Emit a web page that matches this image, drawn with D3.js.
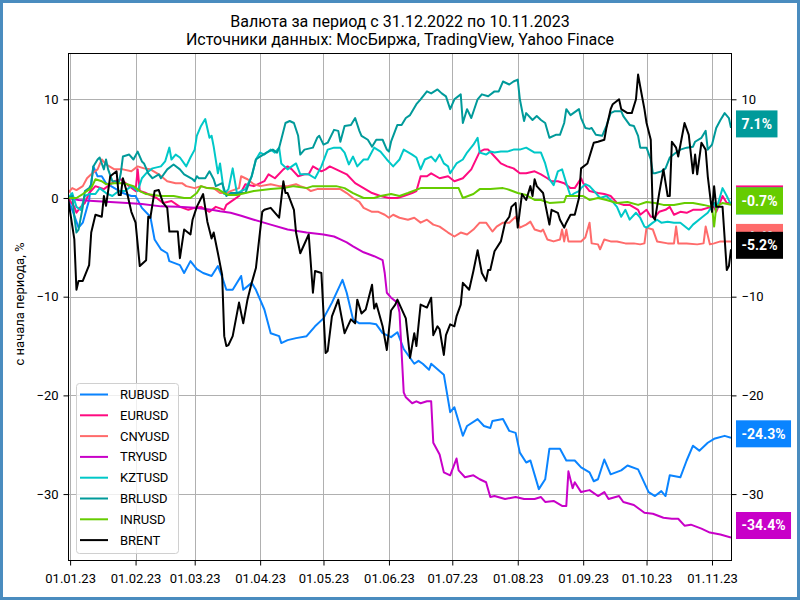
<!DOCTYPE html>
<html>
<head>
<meta charset="utf-8">
<script src="https://cdn.jsdelivr.net/npm/d3@7"></script>
<style>
  body { margin: 0; background: #fff; }
  text { font-family: Roboto, "DejaVu Sans", sans-serif; }
</style>
</head>
<body>
<script>
// day offsets from 31.12.2022, values in % from period start
var RUBUSD = [[0,0],[5,-3.0],[7,-2.5],[10,-0.2],[12,3.2],[14,2.2],[16,2.2],[18,1.5],[22,1.0],[26,0.5],[30,0.2],[32,0.2],[35,-1.0],[39,-1.9],[41,-4.2],[44,-5.2],[47,-5.6],[48,-6.4],[53,-6.8],[55,-7.6],[58,-6.4],[61,-7.2],[64,-7.6],[68,-7.9],[71,-6.9],[73,-8.0],[75,-9.3],[78,-9.3],[82,-7.9],[83,-9.3],[87,-8.6],[89,-9.3],[93,-11.3],[96,-13.7],[100,-14.0],[101,-14.7],[104,-14.4],[108,-14.2],[113,-14.0],[117,-13.0],[121,-12.2],[125,-10.6],[130,-8.3],[132,-9.6],[135,-12.3],[138,-12.7],[143,-12.7],[146,-12.8],[149,-13.7],[153,-14.1],[156,-13.6],[159,-15.3],[164,-16.8],[166,-16.5],[168,-16.8],[171,-17.4],[172,-16.8],[178,-17.9],[181,-21.7],[183,-21.2],[187,-24.1],[189,-23.1],[194,-22.4],[197,-23.1],[200,-23.3],[201,-22.6],[206,-22.4],[209,-23.6],[212,-23.8],[214,-25.8],[217,-26.8],[219,-26.6],[223,-29.5],[226,-28.5],[228,-25.4],[233,-25.4],[236,-26.6],[240,-26.6],[243,-27.3],[247,-27.8],[249,-28.7],[251,-28.5],[254,-26.5],[257,-28.0],[262,-27.6],[265,-27.1],[270,-27.5],[275,-29.8],[278,-30.2],[281,-29.7],[283,-30.2],[285,-28.1],[290,-28.3],[293,-26.6],[296,-25.1],[299,-25.6],[303,-24.8],[306,-24.4],[311,-24.1],[314,-24.3]];

var EURUSD = [[0,0],[3,-0.9],[4,-1.5],[6,-0.9],[8,-0.5],[10,0.5],[13,1.2],[17,0.9],[22,1.7],[25,1.9],[29,1.2],[32,0.7],[33,2.9],[34,0.7],[37,0.5],[42,0],[45,-0.5],[49,-0.3],[53,-0.9],[57,-1.2],[60,-1.0],[63,-0.9],[67,-1.4],[70,-0.9],[74,-1.2],[75,-0.7],[77,-0.4],[81,0.2],[84,1.4],[88,1.2],[93,1.7],[95,2.4],[98,2.0],[102,2.9],[104,3.2],[106,2.9],[109,2.2],[112,2.4],[114,2.4],[116,3.2],[120,2.7],[122,2.9],[124,3.2],[127,2.9],[132,2.4],[136,1.5],[140,1.0],[144,0.5],[148,0.2],[152,0],[156,0],[159,0.2],[163,0.5],[165,0.7],[167,2.2],[170,2.2],[172,2.5],[176,2.0],[180,2.2],[183,1.7],[187,2.0],[191,2.9],[195,4.7],[197,4.9],[199,4.9],[202,4.2],[205,3.5],[208,3.2],[211,3.0],[214,2.5],[217,2.5],[221,2.7],[224,2.4],[227,2.0],[229,1.7],[232,1.7],[235,1.5],[238,1.0],[240,1.0],[243,2.0],[244,1.5],[247,0.7],[251,0.5],[254,0.4],[257,0.2],[260,-0.5],[263,-0.7],[266,-0.7],[270,-1.2],[271,-1.7],[274,-1.2],[276,-1.9],[278,-1.9],[280,-1.4],[283,-1.2],[285,-0.9],[287,-1.7],[290,-1.4],[293,-1.5],[296,-1.2],[300,-1.2],[303,-1.0],[306,-0.9],[307,-1.4],[310,0.2],[312,-0.5],[314,-0.5]];

var CNYUSD = [[0,0.5],[2,1.0],[4,0.8],[7,1.2],[9,2.0],[11,2.4],[14,2.9],[16,3.9],[18,3.4],[22,2.9],[26,2.9],[30,2.7],[33,3.2],[36,3.0],[39,2.9],[43,2.4],[47,1.7],[51,1.5],[54,1.5],[56,1.2],[60,1.0],[63,1.2],[66,1.0],[69,1.0],[72,0.5],[75,0.5],[77,0.7],[81,1.0],[82,2.2],[85,1.9],[88,1.4],[91,1.2],[96,1.4],[100,1.2],[104,1.2],[108,1.4],[110,1.2],[113,1.0],[115,0.7],[118,0.9],[121,0.9],[125,0.9],[129,0.9],[132,0.5],[135,0],[138,-0.4],[140,-1.0],[144,-1.4],[147,-1.4],[150,-1.7],[152,-2.0],[154,-1.7],[157,-2.0],[161,-2.2],[164,-2.0],[167,-2.5],[170,-2.2],[173,-2.7],[176,-2.9],[180,-3.5],[183,-3.9],[186,-3.5],[189,-3.7],[192,-3.2],[195,-2.5],[198,-2.5],[201,-3.4],[203,-2.9],[206,-2.5],[209,-2.5],[212,-1.9],[214,-3.0],[215,-2.9],[217,-2.7],[219,-2.4],[221,-3.2],[224,-3.4],[225,-3.2],[227,-4.2],[230,-4.4],[233,-4.2],[234,-3.2],[235,-4.4],[236,-3.2],[237,-4.4],[240,-4.4],[243,-4.4],[245,-4.0],[247,-2.5],[248,-4.6],[251,-4.7],[252,-5.2],[254,-4.2],[257,-4.4],[260,-4.4],[264,-4.6],[268,-4.6],[271,-4.7],[273,-4.6],[274,-3.0],[277,-3.2],[279,-4.4],[284,-4.6],[287,-4.6],[288,-2.9],[289,-4.6],[293,-4.6],[298,-4.7],[301,-4.6],[302,-2.9],[304,-4.7],[306,-4.6],[309,-4.4],[314,-4.4]];

var TRYUSD = [[0,0],[5,-0.2],[12,-0.3],[20,-0.4],[28,-0.5],[35,-0.6],[44,-0.85],[52,-0.9],[60,-1.0],[68,-1.2],[72,-1.35],[77,-1.5],[82,-1.8],[88,-2.2],[96,-2.7],[104,-3.2],[113,-3.5],[121,-3.7],[126,-3.9],[129,-4.2],[132,-4.5],[135,-4.9],[140,-5.5],[145,-5.9],[149,-6.3],[150,-7.6],[151,-9.6],[153,-10.1],[156,-10.6],[157,-11.6],[159,-19.7],[160,-20.2],[163,-20.8],[165,-20.6],[167,-20.8],[170,-20.6],[172,-20.6],[173,-24.8],[176,-26.0],[178,-27.8],[181,-28.1],[184,-26.4],[185,-27.6],[188,-28.3],[192,-28.1],[195,-28.5],[198,-28.8],[200,-30.3],[202,-30.2],[207,-30.5],[212,-30.3],[216,-30.5],[221,-30.5],[224,-30.3],[226,-30.8],[230,-30.7],[234,-31.2],[236,-31.2],[237,-27.7],[239,-29.4],[240,-28.8],[243,-29.8],[247,-29.6],[251,-30.2],[254,-29.8],[256,-30.5],[261,-30.2],[263,-30.8],[268,-31.1],[273,-31.9],[277,-32.0],[282,-32.4],[286,-32.5],[289,-32.5],[292,-33.2],[295,-33.1],[300,-33.5],[304,-33.9],[309,-34.1],[314,-34.4]];

var KZTUSD = [[0,0],[2,0.5],[4,-0.9],[6,-1.2],[8,0.2],[10,0.4],[13,0.4],[15,1.0],[18,0.5],[21,0.2],[24,0.7],[27,0.7],[30,1.2],[33,0.7],[35,2.0],[37,2.5],[40,3.0],[44,3.2],[46,3.7],[48,5.1],[49,3.9],[51,4.4],[53,4.1],[56,3.2],[58,4.1],[60,4.9],[61,6.3],[63,7.3],[65,8.0],[67,6.1],[68,6.3],[69,5.2],[71,2.5],[72,3.5],[74,0.4],[76,0.9],[78,3.0],[80,0.5],[82,0.7],[84,0.9],[87,2.2],[89,3.9],[91,4.6],[93,4.4],[96,4.9],[98,4.6],[100,5.1],[101,3.5],[104,2.9],[106,3.2],[108,3.5],[110,2.4],[114,2.4],[117,2.0],[120,3.2],[123,4.9],[126,5.1],[129,5.1],[131,4.6],[133,3.4],[135,4.2],[137,3.2],[140,3.9],[142,3.9],[145,5.1],[148,4.7],[151,3.9],[154,3.2],[157,3.9],[159,4.9],[163,4.4],[165,4.1],[167,2.9],[169,3.9],[172,4.2],[174,3.7],[176,4.4],[178,3.5],[180,3.2],[181,2.5],[184,3.5],[187,3.9],[189,4.6],[192,5.4],[194,6.1],[195,4.6],[198,4.4],[200,4.7],[202,4.6],[205,4.7],[208,4.7],[211,4.9],[214,4.9],[217,5.1],[221,4.6],[224,4.6],[226,3.5],[228,1.9],[230,1.3],[232,2.7],[234,2.9],[236,1.5],[238,0.2],[240,0.5],[242,0.7],[243,1.0],[245,1.4],[247,1.2],[250,0.5],[252,0],[255,0.2],[258,-0.4],[260,-0.9],[262,-1.9],[264,-1.2],[266,-2.2],[269,-1.5],[271,-2.0],[273,-2.9],[274,-3.0],[277,-2.5],[279,-2.2],[281,-2.5],[284,-2.4],[287,-2.5],[290,-2.5],[294,-3.2],[296,-2.7],[300,-2.0],[303,-1.5],[306,-0.5],[307,-1.2],[310,1.0],[312,0.2],[314,-0.7]];

var BRLUSD = [[0,0],[2,0.2],[3,-1.9],[4,-3.5],[5,-3.2],[7,-0.9],[8,0.7],[10,1.0],[11,1.4],[12,3.2],[14,3.9],[15,4.1],[17,2.9],[18,3.9],[19,2.9],[21,1.7],[22,1.7],[24,1.5],[25,2.5],[26,4.2],[29,4.4],[31,3.9],[33,4.7],[35,3.7],[36,3.5],[38,2.5],[40,2.0],[43,2.4],[44,2.0],[47,2.9],[50,3.4],[53,2.9],[55,2.4],[59,1.9],[60,1.7],[61,2.2],[62,2.0],[65,2.0],[67,2.7],[69,1.9],[70,1.2],[73,1.5],[75,0.2],[77,0.5],[81,0.5],[84,0.5],[87,2.2],[89,3.9],[91,4.2],[94,4.6],[97,4.9],[99,4.6],[100,5.1],[103,7.6],[105,7.8],[107,7.6],[109,6.3],[110,4.4],[112,4.9],[116,5.1],[118,6.1],[119,6.3],[121,5.4],[123,5.6],[126,6.9],[128,6.8],[129,5.7],[131,7.3],[134,7.4],[136,8.1],[138,6.8],[139,6.3],[142,5.9],[144,5.2],[146,5.9],[149,5.9],[151,4.9],[152,4.7],[153,5.7],[156,7.4],[158,7.4],[160,8.1],[162,8.4],[165,9.5],[167,10.0],[170,10.8],[172,10.6],[175,11.0],[177,10.6],[179,10.3],[181,9.0],[183,10.0],[186,10.5],[187,7.6],[189,9.0],[191,8.1],[194,10.0],[196,10.5],[199,10.3],[202,10.8],[204,10.8],[206,11.8],[209,11.5],[211,11.8],[213,12.0],[214,10.0],[216,7.8],[217,8.6],[220,7.9],[222,8.3],[224,7.9],[226,7.6],[228,6.1],[231,6.4],[233,6.4],[235,7.6],[236,9.0],[238,8.4],[242,9.0],[243,8.1],[245,7.1],[247,7.0],[248,7.1],[250,6.4],[253,6.3],[255,7.3],[257,8.6],[259,8.8],[262,8.8],[263,8.3],[266,7.4],[268,7.3],[270,6.3],[271,5.1],[274,5.1],[276,3.9],[277,2.5],[278,2.5],[281,2.7],[283,3.0],[285,4.1],[288,4.6],[290,4.9],[293,5.1],[296,5.2],[297,5.7],[300,6.1],[302,6.8],[303,4.9],[305,5.4],[307,7.1],[309,7.9],[311,8.6],[313,8.1],[314,7.1]];

var INRUSD = [[0,0],[4,0],[7,0.4],[11,1.0],[13,1.9],[16,1.7],[18,1.4],[22,1.5],[26,1.5],[28,1.4],[31,1.2],[34,0.7],[37,0.4],[44,0.2],[50,0.2],[55,0],[58,0],[61,0.5],[63,1.2],[66,1.0],[71,0.9],[74,0.5],[76,0.3],[80,0.3],[88,0.7],[96,0.9],[102,1.0],[107,1.2],[113,1.0],[116,1.2],[121,1.2],[127,1.2],[131,1.0],[135,0.5],[140,0],[145,0],[148,0.2],[153,0.4],[157,0.2],[161,0.5],[167,1.0],[173,1.0],[179,1.0],[185,1.0],[187,0],[192,0.4],[195,0.9],[200,0.9],[206,1.0],[208,0.9],[213,0.5],[217,0.3],[221,-0.2],[224,-0.2],[228,-0.5],[235,-0.4],[236,0.2],[240,0.2],[244,0.2],[247,-0.2],[251,0],[255,-0.2],[260,-0.5],[265,-0.4],[270,-0.7],[274,-0.4],[278,-0.5],[282,-0.7],[287,-0.7],[292,-0.5],[296,-0.5],[301,-0.7],[305,-0.9],[306,-2.9],[307,-0.9],[310,-0.5],[314,-0.7]];

var BRENT = [[0,0],[3,-4.2],[4,-9.3],[5,-8.4],[7,-8.4],[10,-6.8],[11,-3.5],[13,-1.7],[16,-1.9],[17,0.2],[18,-0.8],[20,2.2],[23,2.7],[24,0.3],[25,0.3],[26,2.0],[28,0.5],[30,-1.4],[32,-2.5],[34,-6.9],[37,-6.3],[38,-1.9],[39,-2.0],[41,0.7],[43,0.8],[45,-0.5],[47,-1.0],[48,-3.4],[52,-3.4],[53,-6.1],[55,-3.2],[58,-3.7],[59,-2.2],[61,-0.9],[64,0.4],[66,-2.4],[68,-4.1],[69,-3.5],[71,-5.6],[73,-7.8],[74,-14.0],[75,-15.0],[76,-14.9],[78,-14.0],[81,-10.6],[83,-12.7],[85,-10.3],[87,-8.6],[89,-7.1],[92,-1.4],[93,-1.2],[96,-1.0],[100,-2.0],[102,1.7],[103,0.5],[104,0.5],[107,-1.2],[108,-3.5],[110,-5.6],[114,-3.7],[116,-9.6],[117,-7.4],[120,-7.6],[122,-15.7],[123,-15.5],[125,-12.0],[128,-10.3],[131,-13.7],[134,-12.3],[136,-12.7],[137,-10.3],[139,-11.7],[141,-11.3],[144,-8.8],[145,-11.2],[146,-10.7],[149,-13.0],[151,-15.4],[153,-11.4],[155,-10.8],[156,-10.3],[160,-12.2],[162,-16.2],[164,-13.7],[165,-15.0],[167,-10.8],[170,-11.1],[172,-10.1],[173,-13.9],[175,-13.0],[176,-13.3],[178,-15.9],[179,-13.9],[181,-12.8],[183,-13.0],[184,-12.0],[186,-10.8],[187,-8.6],[190,-9.3],[192,-7.4],[194,-5.3],[196,-7.6],[198,-8.4],[199,-7.3],[200,-7.3],[202,-5.4],[205,-4.4],[207,-2.5],[209,-1.9],[210,-0.9],[212,-0.5],[213,-3.0],[215,0.4],[217,-0.2],[219,1.2],[220,0.2],[221,1.9],[222,1.2],[225,0.5],[228,-2.7],[229,-1.2],[232,-1.5],[233,-2.2],[235,-3.0],[236,-2.5],[238,-1.7],[240,-1.7],[242,0],[243,3.0],[246,3.5],[248,4.9],[249,5.6],[251,5.7],[254,5.9],[255,7.1],[257,9.0],[258,9.5],[261,10.0],[262,9.0],[265,8.6],[267,8.6],[269,10.0],[270,12.5],[271,11.3],[273,9.0],[274,7.6],[276,5.9],[277,-1.9],[278,-2.2],[280,0.5],[282,2.9],[284,0.2],[285,0.2],[286,5.7],[288,5.1],[289,4.2],[292,7.6],[294,6.4],[296,2.5],[297,4.4],[298,2.4],[300,5.6],[302,4.9],[303,2.2],[305,-1.4],[306,1.2],[307,-0.9],[310,-0.9],[312,-7.3],[313,-6.9],[314,-5.2]];

var names = ["RUBUSD", "EURUSD", "CNYUSD", "TRYUSD", "KZTUSD", "BRLUSD", "INRUSD", "BRENT"];
var colors = ["#0a84ff", "#ff0a80", "#ff6b6b", "#c800c8", "#00c8c8", "#009a9a", "#66cc00", "#000000"];
var values = [RUBUSD, EURUSD, CNYUSD, TRYUSD, KZTUSD, BRLUSD, INRUSD, BRENT];

var yTicks = [-30, -20, -10, 0, 10];
var yTicksRight = [-30, -20, -10, 10]; // 0 sits under the value tags
var monthTicks = ["2023-01-01", "2023-02-01", "2023-03-01", "2023-04-01", "2023-05-01", "2023-06-01",
                  "2023-07-01", "2023-08-01", "2023-09-01", "2023-10-01", "2023-11-01"];
var titleLines = ["Валюта за период с 31.12.2022 по 10.11.2023",
                  "Источники данных: МосБиржа, TradingView, Yahoo Finace"];
var yLabel = "с начала периода, %";

var startDay = Date.UTC(2022, 11, 31);
var toDate = d => new Date(startDay + d * 864e5);

var width = 800, height = 600;
var plot = {left: 68, right: 731, top: 53, bottom: 560};

var x = d3.scaleUtc()
  .domain([toDate(0), toDate(314)])
  .range([plot.left, plot.right]);

var y = d3.scaleLinear()
  .domain([-36.68, 14.69])
  .range([plot.bottom, plot.top]);

var line = d3.line()
  .x(d => x(toDate(d[0])))
  .y(d => y(d[1]));

var series = names.map((n, i) => ({name: n, color: colors[i], values: values[i]}));

var svg = d3.select("body").append("svg")
  .attr("width", width)
  .attr("height", height);

svg.append("rect")
  .attr("x", 1.5).attr("y", 1.5)
  .attr("width", width - 3).attr("height", height - 3)
  .attr("fill", "#fff")
  .attr("stroke", "#4a8cbf")
  .attr("stroke-width", 3);

// title
svg.selectAll(".title")
  .data(titleLines)
  .enter().append("text")
    .attr("x", 400)
    .attr("y", (d, i) => 27 + i * 18)
    .attr("text-anchor", "middle")
    .style("font-size", "16px")
    .text(d => d);

svg.append("defs").append("clipPath").attr("id", "clip")
  .append("rect")
    .attr("x", plot.left).attr("y", plot.top)
    .attr("width", plot.right - plot.left)
    .attr("height", plot.bottom - plot.top);

// grid
var months = monthTicks.map(s => new Date(s + "T00:00:00Z"));
var grid = svg.append("g").attr("stroke", "#b0b0b0").attr("stroke-width", 1);
grid.selectAll(".vg").data(months).enter().append("line")
  .attr("x1", d => Math.round(x(d)) + 0.5).attr("x2", d => Math.round(x(d)) + 0.5)
  .attr("y1", plot.top).attr("y2", plot.bottom);
grid.selectAll(".hg").data(yTicks).enter().append("line")
  .attr("x1", plot.left).attr("x2", plot.right)
  .attr("y1", d => Math.round(y(d)) + 0.5).attr("y2", d => Math.round(y(d)) + 0.5);

// lines
var lines = svg.append("g").attr("clip-path", "url(#clip)");
lines.selectAll(".series")
  .data(series)
  .enter().append("path")
    .attr("d", d => line(d.values))
    .style("fill", "none")
    .style("stroke", d => d.color)
    .style("stroke-width", 2)
    .style("stroke-linejoin", "round");

// frame
svg.append("rect")
  .attr("x", plot.left + 0.5).attr("y", plot.top + 0.5)
  .attr("width", plot.right - plot.left).attr("height", plot.bottom - plot.top)
  .attr("fill", "none").attr("stroke", "#000").attr("stroke-width", 1);

// axes
function styleAxis(g) {
  g.select(".domain").remove();
  g.selectAll("text").style("font-size", "13px").style("font-family", "Roboto, sans-serif").attr("fill", "#000");
  g.selectAll("line").attr("stroke", "#000");
}

svg.append("g")
  .attr("transform", `translate(0, ${plot.bottom + 0.5})`)
  .call(d3.axisBottom(x).tickValues(months).tickFormat(d3.utcFormat("%d.%m.%y")).tickSize(5).tickPadding(8))
  .call(styleAxis);

svg.append("g")
  .attr("transform", `translate(${plot.left + 0.5}, 0)`)
  .call(d3.axisLeft(y).tickValues(yTicks).tickSize(5).tickPadding(5))
  .call(styleAxis);

svg.append("g")
  .attr("transform", `translate(${plot.right + 0.5}, 0)`)
  .call(d3.axisRight(y).tickValues(yTicksRight).tickSize(5).tickPadding(5))
  .call(styleAxis);

// y label
svg.append("text")
  .attr("transform", "translate(24, 304) rotate(-90)")
  .attr("text-anchor", "middle")
  .style("font-size", "13px")
  .text(yLabel);

// legend
var legend = svg.append("g");
legend.append("rect")
  .attr("x", 76.5).attr("y", 383.5)
  .attr("width", 102).attr("height", 170)
  .attr("rx", 3)
  .attr("fill", "#fff").attr("fill-opacity", 0.8)
  .attr("stroke", "#d0d0d0");
var item = legend.selectAll(".item")
  .data(series)
  .enter().append("g")
    .attr("transform", (d, i) => `translate(0, ${394.5 + i * 20.8})`);
item.append("line")
  .attr("x1", 80).attr("x2", 108)
  .attr("stroke", d => d.color).attr("stroke-width", 2);
item.append("text")
  .attr("x", 120).attr("dy", "0.35em")
  .style("font-size", "13px")
  .text(d => d.name);

// last value tags
var tags = svg.append("g");
series.forEach(function(s) {
  var last = s.values[s.values.length - 1][1];
  var top = Math.min(y(last) - 17.5, plot.bottom - 48);
  var g = tags.append("g");
  var r = g.append("rect").attr("x", 736).attr("y", top).attr("height", 27).attr("fill", s.color);
  var t = g.append("text")
    .attr("x", 741.5).attr("y", top + 13.5).attr("dy", "0.35em")
    .attr("fill", "#fff")
    .style("font-size", "14px").style("font-weight", "bold")
    .text(last.toFixed(1) + "%");
  r.attr("width", t.node().getComputedTextLength() + 11);
});
</script>
</body>
</html>
